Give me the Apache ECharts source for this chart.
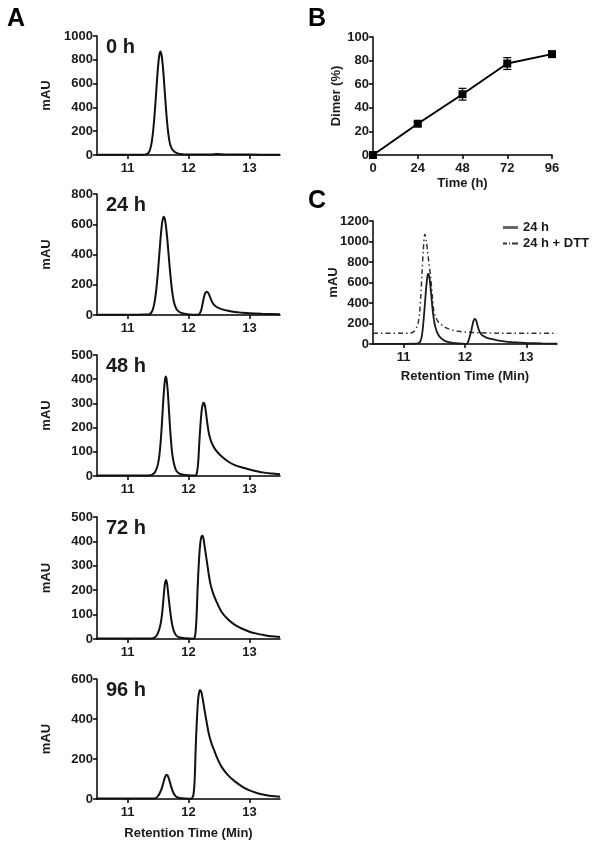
<!DOCTYPE html>
<html><head><meta charset="utf-8">
<script src="https://cdn.jsdelivr.net/npm/echarts@6/dist/echarts.min.js"></script>
<style>html,body{margin:0;padding:0;background:#fff}#c{width:601px;height:849px}</style>
</head><body><div id="c"></div>
<script>
const FONT = '"Liberation Sans", Arial, Helvetica, sans-serif';
const TXT = '#1a1a1a';

// ---- Panel A data: chromatograms, [retention time (min), mAU]
const timeLabels = ['0 h', '24 h', '48 h', '72 h', '96 h'];
const curve0h = [[10.5,2],[11.0,2],[11.26,3],[11.30,5],[11.34,15],[11.36,32],[11.38,64],[11.40,117],[11.42,200],[11.44,313],[11.46,452],[11.48,600],[11.50,739],[11.52,834],[11.54,869],[11.56,834],[11.58,745],[11.60,610],[11.62,465],[11.64,330],[11.66,220],[11.68,140],[11.70,88],[11.73,50],[11.77,27],[11.82,14],[11.90,7],[12.0,5],[12.2,4],[12.38,5],[12.47,8],[12.56,6],[12.8,4],[13.2,3],[13.5,3]];
const curve24h = [[10.5,2],[11.0,2],[11.3,3],[11.355,4],[11.375,10],[11.395,19],[11.415,36],[11.435,67],[11.455,114],[11.475,181],[11.495,267],[11.515,368],[11.535,472],[11.555,564],[11.575,627],[11.595,650],[11.615,630],[11.635,573],[11.655,490],[11.675,395],[11.695,300],[11.715,216],[11.735,148],[11.755,98],[11.78,60],[11.81,35],[11.85,20],[11.90,11],[11.98,5],[12.08,2],[12.15,1],[12.17,4],[12.19,14],[12.21,35],[12.23,72],[12.25,112],[12.27,142],[12.29,153],[12.30,154],[12.32,148],[12.34,132],[12.36,112],[12.38,92],[12.41,72],[12.45,56],[12.50,45],[12.54,39],[12.65,28],[12.76,20],[12.88,15],[13.0,11],[13.2,8],[13.5,5]];
const curve48h = [[10.5,2],[11.0,2],[11.3,2],[11.38,3],[11.42,8],[11.45,16],[11.48,32],[11.50,50],[11.52,80],[11.54,130],[11.56,200],[11.58,285],[11.60,360],[11.615,398],[11.627,411],[11.64,400],[11.66,350],[11.68,270],[11.70,190],[11.72,125],[11.74,80],[11.77,42],[11.80,22],[11.85,10],[11.92,5],[12.0,3],[12.1,2],[12.12,3],[12.14,15],[12.16,60],[12.18,150],[12.20,225],[12.22,278],[12.24,300],[12.25,303],[12.27,290],[12.29,255],[12.31,215],[12.33,182],[12.35,160],[12.38,137],[12.43,113],[12.48,97],[12.54,82],[12.65,60],[12.76,45],[12.88,35],[13.0,27],[13.12,20],[13.24,14],[13.36,10],[13.5,7]];
const curve72h = [[10.5,2],[11.0,2],[11.3,2],[11.39,2],[11.43,5],[11.47,12],[11.50,25],[11.53,48],[11.55,72],[11.57,110],[11.59,165],[11.61,220],[11.63,242],[11.65,225],[11.67,180],[11.69,135],[11.71,95],[11.73,62],[11.76,32],[11.80,14],[11.86,6],[11.95,3],[12.07,1],[12.09,2],[12.11,15],[12.13,80],[12.15,211],[12.17,315],[12.19,385],[12.21,418],[12.23,423],[12.25,405],[12.27,370],[12.30,320],[12.33,268],[12.36,225],[12.40,190],[12.45,158],[12.54,112],[12.65,80],[12.76,58],[12.88,42],[13.0,30],[13.12,22],[13.24,16],[13.36,11],[13.5,8]];
const curve96h = [[10.5,2],[11.0,2],[11.35,2],[11.44,2],[11.47,6],[11.50,15],[11.53,30],[11.56,52],[11.58,72],[11.60,95],[11.62,113],[11.64,121],[11.66,116],[11.68,100],[11.70,78],[11.72,58],[11.74,40],[11.77,22],[11.80,11],[11.85,5],[11.95,2],[12.05,1],[12.06,2],[12.08,20],[12.10,90],[12.12,272],[12.14,410],[12.16,505],[12.18,540],[12.19,545],[12.21,535],[12.23,505],[12.25,470],[12.27,432],[12.30,380],[12.33,330],[12.37,285],[12.43,236],[12.48,198],[12.54,162],[12.65,118],[12.76,88],[12.88,62],[13.0,43],[13.12,30],[13.24,21],[13.36,15],[13.5,11]];
const curvesA = [curve0h, curve24h, curve48h, curve72h, curve96h];
const yMaxA = [1000, 800, 500, 500, 600];
const yStepA = [200, 200, 100, 100, 200];
const retentionTicks = [11, 12, 13];

// ---- Panel B data
const dimerTime = [0, 24, 48, 72, 96];
const dimerPct = [0, 26.5, 51.5, 77.5, 85.5];
const dimerErr = [0.5, 1.5, 5, 5, 1.5];

// ---- Panel C data
const cCurve24h = [[10.5,2],[11.0,2],[11.2,3],[11.24,8],[11.27,25],[11.29,60],[11.31,140],[11.33,270],[11.35,420],[11.37,570],[11.39,670],[11.40,683],[11.42,650],[11.44,540],[11.46,410],[11.48,295],[11.50,210],[11.53,140],[11.56,95],[11.60,62],[11.66,35],[11.72,20],[11.80,11],[11.90,5],[12.0,2],[12.02,1],[12.04,10],[12.06,35],[12.08,80],[12.10,123],[12.12,180],[12.14,228],[12.16,246],[12.18,232],[12.20,190],[12.23,130],[12.26,98],[12.30,77],[12.35,62],[12.42,49],[12.53,36],[12.64,26],[12.75,19],[12.88,14],[13.0,10],[13.25,6],[13.5,3]];
const cCurveDTT = [[10.5,104],[11.0,104],[11.10,106],[11.15,115],[11.18,130],[11.21,160],[11.24,215],[11.26,300],[11.28,480],[11.30,700],[11.32,920],[11.345,1071],[11.37,1000],[11.39,900],[11.41,800],[11.44,650],[11.47,450],[11.49,330],[11.52,265],[11.56,220],[11.60,197],[11.66,168],[11.72,150],[11.80,135],[11.90,124],[12.0,117],[12.2,110],[12.5,106],[13.0,105],[13.5,104]];
const legendC = ['24 h', '24 h + DTT'];

const gridTopA = [36, 194, 355, 517, 679];
const gridHA = [119, 121, 121, 122, 120];

const axLine = {show: true, onZero: false, lineStyle: {color: '#000', width: 1.5}};
const axTick = {show: true, length: 4, lineStyle: {color: '#000', width: 1.5}};
const lab = {fontFamily: FONT, fontWeight: 'bold', fontSize: 13, color: TXT, formatter: v => String(v)};
const nameStyle = {fontFamily: FONT, fontWeight: 'bold', fontSize: 13, color: TXT};

const grid = [], xAxis = [], yAxis = [], series = [], graphic = [];

curvesA.forEach((curve, i) => {
  grid.push({left: 97, top: gridTopA[i], width: 183, height: gridHA[i]});
  xAxis.push({gridIndex: i, type: 'value', min: 10.5, max: 13.5,
    axisLine: axLine,
    axisTick: Object.assign({}, axTick, {customValues: retentionTicks}),
    axisLabel: Object.assign({}, lab, {customValues: retentionTicks, margin: 7}),
    splitLine: {show: false},
    name: i === 4 ? 'Retention Time (Min)' : '', nameLocation: 'middle', nameGap: 28, nameMoveOverlap: false, nameTextStyle: nameStyle});
  yAxis.push({gridIndex: i, type: 'value', min: 0, max: yMaxA[i], interval: yStepA[i],
    axisLine: axLine, axisTick: axTick,
    axisLabel: Object.assign({}, lab, {margin: 4}),
    splitLine: {show: false},
    name: 'mAU', nameLocation: 'middle', nameGap: 44, nameMoveOverlap: false, nameTextStyle: nameStyle});
  series.push({type: 'line', xAxisIndex: i, yAxisIndex: i, data: curve, symbol: 'none',
    smooth: 0.3, lineStyle: {color: '#111', width: 2}, silent: true});
  graphic.push({type: 'text', x: 106, y: gridTopA[i] + 11, style: {text: timeLabels[i],
    font: 'bold 20px ' + FONT, fill: TXT, verticalAlign: 'middle'}});
});

// Panel B
grid.push({left: 373, top: 37, width: 179, height: 118});
xAxis.push({gridIndex: 5, type: 'value', min: 0, max: 96, interval: 24,
  axisLine: axLine, axisTick: axTick, axisLabel: Object.assign({}, lab, {margin: 7}),
  splitLine: {show: false}, name: 'Time (h)', nameLocation: 'middle', nameGap: 22, nameMoveOverlap: false, nameTextStyle: nameStyle});
yAxis.push({gridIndex: 5, type: 'value', min: 0, max: 100, interval: 20,
  axisLine: axLine, axisTick: axTick, axisLabel: Object.assign({}, lab, {margin: 4}),
  splitLine: {show: false}, name: 'Dimer (%)', nameLocation: 'middle', nameGap: 30, nameMoveOverlap: false, nameTextStyle: nameStyle});
series.push({type: 'custom', xAxisIndex: 5, yAxisIndex: 5,
  data: dimerTime.map((t, k) => [t, dimerPct[k] - dimerErr[k], dimerPct[k] + dimerErr[k]]),
  renderItem: (params, api) => {
    const lo = api.coord([api.value(0), api.value(1)]);
    const hi = api.coord([api.value(0), api.value(2)]);
    const w = 4;
    const st = {stroke: '#000', lineWidth: 1.2};
    return {type: 'group', children: [
      {type: 'line', shape: {x1: lo[0], y1: lo[1], x2: hi[0], y2: hi[1]}, style: st},
      {type: 'line', shape: {x1: lo[0] - w, y1: lo[1], x2: lo[0] + w, y2: lo[1]}, style: st},
      {type: 'line', shape: {x1: hi[0] - w, y1: hi[1], x2: hi[0] + w, y2: hi[1]}, style: st}
    ]};
  }, silent: true, z: 3});
series.push({type: 'line', xAxisIndex: 5, yAxisIndex: 5,
  data: dimerTime.map((t, k) => [t, dimerPct[k]]),
  symbol: 'rect', symbolSize: 8, itemStyle: {color: '#000'},
  lineStyle: {color: '#000', width: 2}, silent: true, z: 4});

// Panel C
grid.push({left: 373, top: 221, width: 184, height: 123});
xAxis.push({gridIndex: 6, type: 'value', min: 10.5, max: 13.5,
  axisLine: axLine,
  axisTick: Object.assign({}, axTick, {customValues: retentionTicks}),
  axisLabel: Object.assign({}, lab, {customValues: retentionTicks, margin: 7}),
  splitLine: {show: false}, name: 'Retention Time (Min)', nameLocation: 'middle', nameGap: 26, nameMoveOverlap: false, nameTextStyle: nameStyle});
yAxis.push({gridIndex: 6, type: 'value', min: 0, max: 1200, interval: 200,
  axisLine: axLine, axisTick: axTick, axisLabel: Object.assign({}, lab, {margin: 4}),
  splitLine: {show: false}, name: 'mAU', nameLocation: 'middle', nameGap: 33, nameMoveOverlap: false, nameTextStyle: nameStyle});
series.push({type: 'line', name: legendC[0], xAxisIndex: 6, yAxisIndex: 6, data: cCurve24h, symbol: 'none',
  smooth: 0.3, color: '#666', lineStyle: {color: '#1a1a1a', width: 1.8}, silent: true, z: 3});
series.push({type: 'line', name: legendC[1], xAxisIndex: 6, yAxisIndex: 6, data: cCurveDTT, symbol: 'none',
  smooth: 0.3, color: '#333', lineStyle: {color: '#333', width: 1.5, type: [5, 3, 1.5, 3]}, silent: true, z: 2});

// Panel letters
[['A', 7, 19], ['B', 308, 19], ['C', 308, 201]].forEach(([t, x, y]) => {
  graphic.push({type: 'text', x: x, y: y, style: {text: t, font: 'bold 25px ' + FONT, fill: '#000', verticalAlign: 'middle'}});
});

const chart = echarts.init(document.getElementById('c'), null, {renderer: 'canvas'});
chart.setOption({
  animation: false,
  backgroundColor: '#fff',
  grid, xAxis, yAxis, series, graphic,
  legend: {orient: 'vertical', left: 503, top: 221, padding: 0, itemWidth: 15, itemHeight: 3, itemGap: 3,
    data: [
      {name: legendC[0], icon: 'path://M0,0H15V3H0Z', itemStyle: {color: '#666'}},
      {name: legendC[1], icon: 'path://M0,0H4V2H0Z M6,0H7V2H6Z M9,0H15V2H9Z', itemStyle: {color: '#333'}}
    ],
    textStyle: {fontFamily: FONT, fontWeight: 'bold', fontSize: 13, color: TXT}, selectedMode: false}
});
</script></body></html>
